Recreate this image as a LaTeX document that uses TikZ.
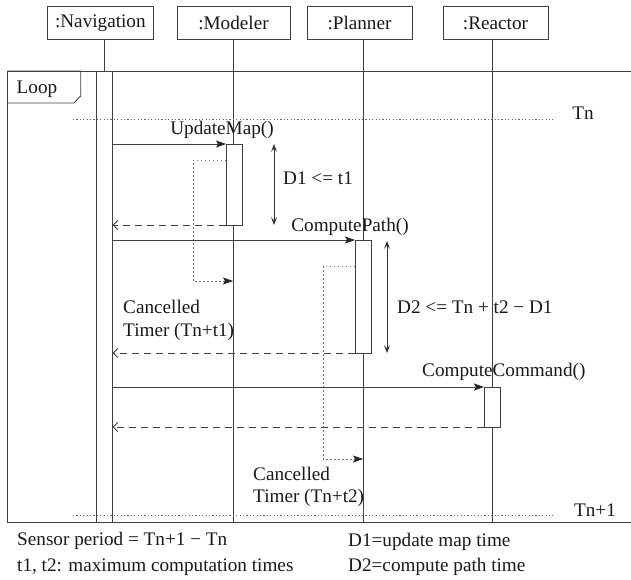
\documentclass[tikz,border=0pt]{standalone}
\usepackage{fontspec}
\setmainfont{Liberation Serif}
\usetikzlibrary{arrows.meta}
\begin{document}
\begin{tikzpicture}[x=1pt,y=-1pt,
  txt/.style={font=\fontsize{19.2}{23}\selectfont, inner sep=0pt, text=black!90},
  ln/.style={line width=0.9pt, draw=black!75},
  head/.style={ln, rectangle, fill=white, minimum height=32.3pt, inner sep=0pt, outer sep=0pt,
    font=\fontsize{19.2}{23}\selectfont, text=black!90},
  actbar/.style={ln, rectangle, fill=white, minimum width=16pt, inner sep=0pt, outer sep=0pt},
  msg/.style={ln, -{Stealth[length=10pt,width=7pt,inset=2pt,black!85]}},
  reply/.style={ln, dash pattern=on 7pt off 5pt, -{Straight Barb[length=4.5pt,width=9pt,line width=0.9pt]}},
  timer/.style={line width=0.7pt, draw=black!55, dash pattern=on 1.5pt off 2.5pt,
    -{Stealth[length=10pt,width=7pt,inset=2pt,black!85]}},
  mark line/.style={line width=0.7pt, draw=black!60, dash pattern=on 1.2pt off 2.2pt},
  span/.style={line width=0.8pt, draw=black!80,
    {Stealth[length=8pt,width=6pt,inset=3.5pt]}-{Stealth[length=8pt,width=6pt,inset=3.5pt]}},
]
\useasboundingbox (0,0) rectangle (631,579);

% object heads
\node[head, minimum width=105.3pt] (nav) at (100.35,22.85) {:Navigation};
\node[head, minimum width=113pt]   (mod) at (233.5,22.85) {:Modeler};
\node[head, minimum width=105pt]   (plan) at (359.5,22.85) {:Planner};
\node[head, minimum width=105pt]   (reac) at (495.5,22.85) {:Reactor};

% loop frame
\coordinate (frTR) at (631,71);
\coordinate (frTL) at (7.3,71);
\coordinate (frBL) at (7.3,522.7);
\coordinate (frBR) at (631,522.7);
\draw[ln] (frTR) -- (frTL) -- (frBL) -- (frBR);
\draw[ln] (frTL) -- (80.7,71) -- (80.7,96) -- (74,103) -- (7.3,103);
\node[txt] (looplbl) at (37,89) {Loop};

% lifelines
\coordinate (modEnd) at (233,522.7);
\coordinate (planEnd) at (363,522.7);
\coordinate (reacEnd) at (492,522.7);
\draw[ln] (modEnd |- mod.south) -- (modEnd);
\draw[ln] (planEnd |- plan.south) -- (planEnd);
\draw[ln] (reacEnd |- reac.south) -- (reacEnd);

% navigation activation (whole loop)
\node[actbar, minimum height=451.7pt] (navbar) at (104.7,296.85) {};
\draw[ln] (navbar.north |- nav.south) -- (navbar.north);

% period markers
\coordinate (tnA) at (73,119);   \coordinate (tnB) at (553,119);
\coordinate (tn1A) at (73,515);  \coordinate (tn1B) at (553,515);
\draw[mark line] (tnA) -- (tnB);
\draw[mark line] (tn1A) -- (tn1B);
\node[txt] (tn) at (583,113) {Tn};
\node[txt] (tn1) at (595,510) {Tn+1};

% activations
\node[actbar, minimum height=81pt]  (act1) at (234,184.5) {};
\node[actbar, minimum height=113pt] (act2) at (363,296.5) {};
\node[actbar, minimum height=40pt]  (act3) at (492,407) {};

% UpdateMap
\draw[msg] (navbar.east |- act1.north west) -- (act1.north west);
\node[txt] (umlbl) at (222,130) {UpdateMap()};
\coordinate (t1a) at (193,160);
\coordinate (t1b) at (193,281);
\draw[timer] (act1.west |- t1a) -- (t1a) -- (t1b) -- (modEnd |- t1b);
\draw[reply] (act1.south west) -- (navbar.east |- act1.south west);
\coordinate (d1a) at (274,144);
\coordinate (d1b) at (274,225);
\draw[span] (d1a) -- (d1b);
\node[txt, anchor=west] (d1lbl) at (283,178) {D1 <= t1};

% ComputePath
\draw[msg] (navbar.east |- act2.north west) -- (act2.north west);
\node[txt] (cplbl) at (350,227) {ComputePath()};
\coordinate (t2a) at (323,266);
\coordinate (t2b) at (323,459);
\draw[timer] (act2.west |- t2a) -- (t2a) -- (t2b) -- (planEnd |- t2b);
\draw[reply] (act2.south west) -- (navbar.east |- act2.south west);
\coordinate (d2a) at (387,241);
\coordinate (d2b) at (387,353);
\draw[span] (d2a) -- (d2b);
\node[txt, anchor=west] (d2lbl) at (397,307) {D2 <= Tn + t2 − D1};

\node[txt, anchor=west] (c1a) at (123,307) {Cancelled};
\node[txt, anchor=west] (c1b) at (123,332) {Timer (Tn+t1)};

% ComputeCommand
\draw[msg] (navbar.east |- act3.north west) -- (act3.north west);
\node[txt, anchor=west] (cclbl) at (422,372) {ComputeCommand()};
\draw[reply] (act3.south west) -- (navbar.east |- act3.south west);

\node[txt, anchor=west] (c2a) at (253,474) {Cancelled};
\node[txt, anchor=west] (c2b) at (253,498) {Timer (Tn+t2)};

% legend
\node[txt, anchor=west] (leg1) at (17,541) {Sensor period = Tn+1 − Tn};
\node[txt, anchor=west] (leg2) at (17,567) {t1, t2: maximum computation times};
\node[txt, anchor=west] (leg3) at (348,542) {D1=update map time};
\node[txt, anchor=west] (leg4) at (348,567) {D2=compute path time};
\end{tikzpicture}
\end{document}
